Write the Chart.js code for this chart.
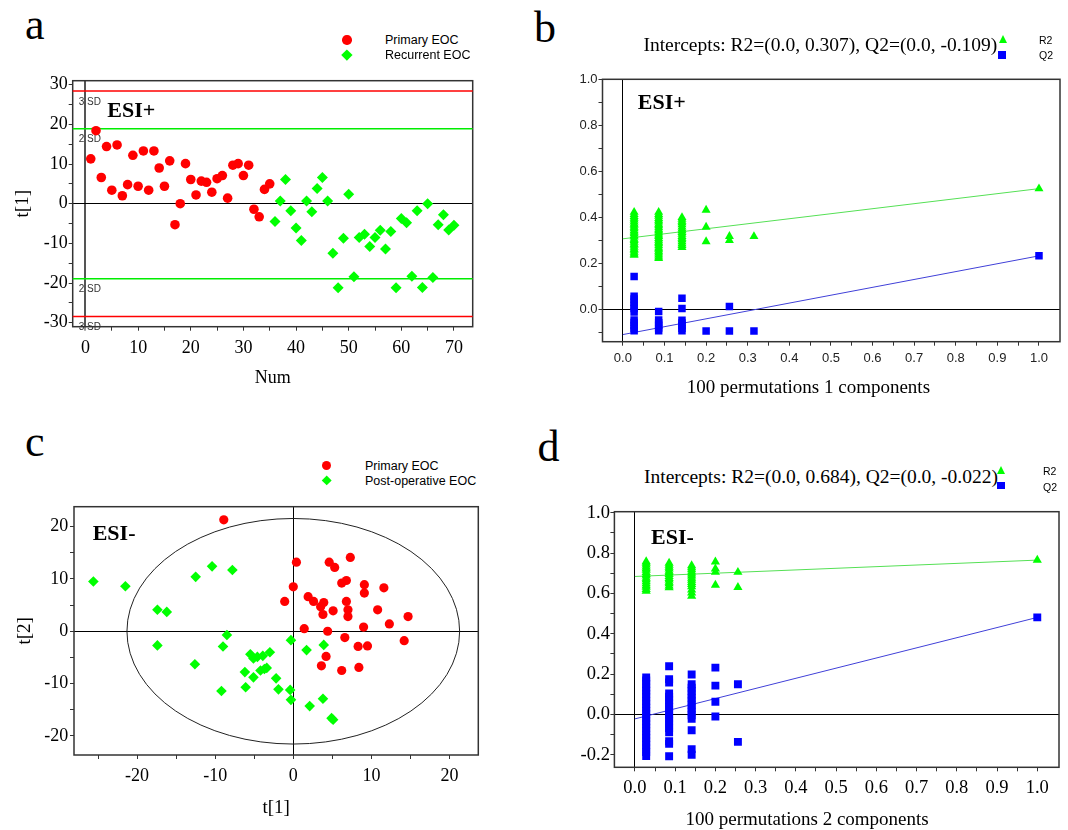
<!DOCTYPE html>
<html>
<head>
<meta charset="utf-8">
<title>EOC score plots and permutation tests</title>
<script src="https://cdn.jsdelivr.net/npm/chart.js@4/dist/chart.umd.min.js"></script>
<style>
  body { margin: 0; background: #fff; }
  #fig { position: relative; width: 1068px; height: 830px; overflow: hidden; background: #fff; }
  #fig canvas { position: absolute; }
  .txt { position: absolute; white-space: nowrap; line-height: 1; color: #000; }
  .mk { position: absolute; }
</style>
</head>
<body>
<div id="fig">
  <canvas id="chartA" width="490" height="340" style="left:0;top:60px"></canvas>
  <canvas id="chartB" width="548" height="340" style="left:520px;top:60px"></canvas>
  <canvas id="chartC" width="490" height="340" style="left:0;top:490px"></canvas>
  <canvas id="chartD" width="548" height="340" style="left:520px;top:490px"></canvas>
</div>
<script>
// ---- panel a: t[1] by sample number, ESI+ ----
const aPrimaryNum = [1, 2, 3, 4, 5, 6, 7, 8, 9, 10, 11, 12, 13, 14, 15, 16, 17, 18, 19, 20,
  21, 22, 23, 24, 25, 26, 27, 28, 29, 30, 31, 32, 33, 34, 35];
const aPrimaryT1 = [11.3, 18.4, 6.6, 14.4, 3.4, 14.8, 2.0, 4.8, 12.2, 4.4, 13.3, 3.4, 13.3, 9.0, 4.4,
  10.8, -5.3, 0.0, 10.1, 6.1, 2.2, 5.7, 5.4, 2.9, 6.3, 7.1, 1.4, 9.7, 10.1, 7.1, 9.7, -1.4, -3.3, 3.6, 5.0];
const aRecurrentNum = [36, 37, 38, 39, 40, 41, 42, 43, 44, 45, 46, 47, 48, 49, 50, 51, 52, 53, 54,
  55, 56, 57, 58, 59, 60, 61, 62, 63, 64, 65, 66, 67, 68, 69, 70];
const aRecurrentT1 = [-4.5, 0.7, 6.1, -1.8, -6.1, -9.3, 0.7, -2.0, 3.8, 6.6, 0.7, -12.5, -21.2, -8.7, 2.4,
  -18.4, -8.5, -7.7, -10.8, -8.5, -6.7, -11.4, -7.0, -21.2, -3.7, -4.8, -18.3, -1.8, -21.1, 0.0,
  -18.6, -5.3, -2.8, -6.6, -5.4];
const aLimits = [28.4, 18.9, -18.9, -28.4];
const aLimitNames = ['3 SD', '2 SD', '2 SD', '3 SD'];
const aLimitColors = ['#ff0000', '#00ee00', '#00ee00', '#ff0000'];
const aXTicks = [0, 5, 10, 15, 20, 25, 30, 35, 40, 45, 50, 55, 60, 65, 70];
const aYTicks = [-30, -25, -20, -15, -10, -5, 0, 5, 10, 15, 20, 25, 30];

// ---- panel b: 100 permutations, 1 component, ESI+ ----
const bPermCorr = [0.027, 0.086, 0.142, 0.2, 0.256, 0.315];
const bR2Perm = [
  [0.236, 0.241, 0.249, 0.258, 0.262, 0.271, 0.279, 0.284, 0.293, 0.3, 0.306, 0.315, 0.321, 0.329,
   0.336, 0.342, 0.351, 0.358, 0.366, 0.372, 0.381, 0.389, 0.397, 0.404, 0.413, 0.423],
  [0.222, 0.228, 0.237, 0.246, 0.253, 0.262, 0.268, 0.277, 0.286, 0.292, 0.301, 0.309, 0.317, 0.324,
   0.333, 0.341, 0.347, 0.356, 0.364, 0.371, 0.38, 0.388, 0.396, 0.405, 0.413, 0.423],
  [0.27, 0.278, 0.286, 0.295, 0.303, 0.31, 0.318, 0.327, 0.335, 0.343, 0.35, 0.359, 0.368, 0.377,
   0.384, 0.392, 0.4],
  [0.295, 0.358, 0.432],
  [0.3, 0.318],
  [0.317]
];
const bQ2Perm = [
  [0.143, 0.058, 0.046, 0.031, 0.017, 0.004, -0.011, -0.046, -0.057, -0.07, -0.082, -0.092],
  [-0.009, -0.046, -0.058, -0.069, -0.081, -0.092],
  [0.049, 0.004, -0.047, -0.059, -0.07, -0.082, -0.092],
  [-0.093],
  [0.013, -0.093],
  [-0.093]
];
const bR2Model = 0.525, bQ2Model = 0.233;
const bR2Intercept = 0.307, bQ2Intercept = -0.109;
const bXTicks = [0, 0.05, 0.1, 0.15, 0.2, 0.25, 0.3, 0.35, 0.4, 0.45, 0.5, 0.55, 0.6, 0.65, 0.7,
  0.75, 0.8, 0.85, 0.9, 0.95, 1.0];
const bYTicks = [-0.1, 0, 0.1, 0.2, 0.3, 0.4, 0.5, 0.6, 0.7, 0.8, 0.9, 1.0];

// ---- panel c: t[1]/t[2] scores, ESI- ----
const cPrimaryT1 = [-8.9, 0.4, 4.6, 5.3, 7.3, 0.0, 6.2, 6.8, 9.1, 9.1, 11.6, -1.1, 1.9, 2.6, 3.5,
  3.9, 3.8, 5.1, 6.8, 7.0, 7.0, 10.8, 14.7, 12.3, 1.4, 4.4, 9.0, 6.6, 14.2, 8.3, 9.5, 4.2, 3.6, 6.2, 8.4];
const cPrimaryT2 = [21.3, 13.2, 13.2, 12.2, 14.1, 8.5, 9.2, 9.7, 8.9, 7.3, 8.3, 5.7, 6.6, 5.7, 4.7,
  5.5, 3.2, 3.9, 5.7, 4.1, 2.8, 4.1, 2.8, 1.4, 0.5, 0.0, 0.8, -1.2, -1.8, -2.9, -2.8, -4.8, -6.6, -7.5, -6.9];
const cPostT1 = [-25.6, -21.5, -12.5, -10.4, -7.8, -17.4, -16.2, -17.4, -8.5, -9.0, -12.6, -9.2, -5.5,
  -5.1, -3.9, -3.0, -6.2, -5.1, -4.2, -3.4, -6.1, -2.2, -1.9, -0.4, -0.3, -0.3, 1.7, 3.9, 2.1, 3.8,
  4.9, 5.1, -4.6, -3.7];
const cPostT2 = [9.5, 8.6, 10.4, 12.4, 11.7, 4.1, 3.7, -2.7, -0.7, -2.9, -6.3, -11.4, -4.4, -5.2, -4.7,
  -4.0, -7.8, -8.8, -7.5, -7.0, -10.7, -9.0, -11.1, -11.2, -13.1, -1.7, -3.6, -2.6, -14.3, -12.9,
  -16.6, -16.9, -4.9, -7.2];
const cEllipse = [21.3, 21.55]; // Hotelling T2 (95%) semi-axes in t[1], t[2]
const cXTicks = [-25, -20, -15, -10, -5, 0, 5, 10, 15, 20];
const cYTicks = [-20, -15, -10, -5, 0, 5, 10, 15, 20];

// ---- panel d: 100 permutations, 2 components, ESI- ----
const dPermCorr = [0.028, 0.085, 0.141, 0.2, 0.256];
const dR2Perm = [
  [0.612, 0.62, 0.631, 0.639, 0.648, 0.659, 0.668, 0.676, 0.687, 0.695, 0.704, 0.715, 0.723, 0.732,
   0.741, 0.75, 0.758],
  [0.629, 0.637, 0.648, 0.656, 0.667, 0.675, 0.684, 0.694, 0.703, 0.711, 0.722, 0.731, 0.74, 0.75],
  [0.587, 0.603, 0.618, 0.634, 0.645, 0.655, 0.666, 0.676, 0.687, 0.697, 0.707, 0.718, 0.728, 0.738],
  [0.641, 0.705, 0.722, 0.757],
  [0.63, 0.705]
];
const dQ2Perm = [
  [0.183, 0.168, 0.151, 0.133, 0.118, 0.101, 0.085, 0.066, 0.051, 0.034, 0.017, 0.001, -0.016, -0.034,
   -0.049, -0.066, -0.083, -0.1, -0.117, -0.134, -0.15, -0.168, -0.186, -0.206],
  [0.239, 0.175, 0.158, 0.104, 0.088, 0.071, 0.055, 0.037, 0.02, 0.003, -0.015, -0.032, -0.05, -0.068,
   -0.088, -0.133, -0.146, -0.207],
  [0.198, 0.15, 0.133, 0.117, 0.099, 0.082, 0.066, 0.048, 0.031, 0.014, -0.004, -0.022, -0.078,
   -0.172, -0.2],
  [0.232, 0.143, 0.063, -0.01],
  [0.15, -0.136]
];
const dR2Model = 0.765, dQ2Model = 0.481;
const dR2Intercept = 0.684, dQ2Intercept = -0.022;
const dXTicks = bXTicks;
const dYTicks = [-0.2, -0.1, 0, 0.1, 0.2, 0.3, 0.4, 0.5, 0.6, 0.7, 0.8, 0.9, 1.0];

const RED = '#ff0000', GREEN = '#00ff00', BLUE = '#0000ff';
const SERIF = '"Liberation Serif", "Times New Roman", serif';
const SANS = '"Liberation Sans", Arial, sans-serif';

// ---------- helpers ----------
const fig = document.getElementById('fig');

function text(str, x, baseline, size, opts = {}) {
  const el = document.createElement('div');
  el.className = 'txt';
  el.textContent = str;
  el.style.fontFamily = opts.sans ? SANS : SERIF;
  el.style.fontSize = size + 'px';
  if (opts.bold) el.style.fontWeight = 'bold';
  el.style.left = x + 'px';
  el.style.top = (baseline - (opts.sans ? 0.8465 : 0.8375) * size) + 'px';
  if (opts.center) el.style.transform = 'translateX(-50%)';
  fig.appendChild(el);
}

function marker(shape, cx, cy, size, color) {
  const el = document.createElement('div');
  el.className = 'mk';
  let w = size, h = size;
  if (shape === 'circle') {
    el.style.borderRadius = '50%';
    el.style.background = color;
  } else if (shape === 'diamond') {
    w = h = size / Math.SQRT2;
    el.style.background = color;
    el.style.transform = 'rotate(45deg)';
  } else if (shape === 'triangle') {
    el.style.borderLeft = (size / 2) + 'px solid transparent';
    el.style.borderRight = (size / 2) + 'px solid transparent';
    el.style.borderBottom = size + 'px solid ' + color;
    el.style.left = (cx - size / 2) + 'px';
    el.style.top = (cy - size / 2) + 'px';
    fig.appendChild(el);
    return;
  } else {
    el.style.background = color;
  }
  el.style.width = w + 'px';
  el.style.height = h + 'px';
  el.style.left = (cx - w / 2) + 'px';
  el.style.top = (cy - h / 2) + 'px';
  fig.appendChild(el);
}

const pairs = (xs, ys) => xs.map((x, i) => ({ x, y: ys[i] }));
const columns = (xs, cols) => cols.flatMap((col, i) => col.map(y => ({ x: xs[i], y })));

function pointSet(label, data, style, radius, color) {
  return { label, data, pointStyle: style, pointRadius: radius, backgroundColor: color,
           borderWidth: 0, showLine: false, order: 1 };
}
function fitLine(label, intercept, modelValue, color) {
  return { label, data: [{ x: 0, y: intercept }, { x: 1, y: modelValue }], showLine: true,
           pointRadius: 0, borderColor: color, borderWidth: 1, order: 5 };
}

const isZero = c => c.tick && Math.abs(c.tick.value) < 1e-9;

function makeScale(o) {
  return {
    type: 'linear', min: o.min, max: o.max,
    afterBuildTicks: s => { s.ticks = o.ticks.map(v => ({ value: v })); },
    afterFit: s => { if (s.isHorizontal()) s.height = o.size; else s.width = o.size; },
    border: { display: false },
    grid: {
      drawOnChartArea: true,
      color: c => isZero(c) ? o.zeroColor : 'rgba(0,0,0,0)',
      lineWidth: c => isZero(c) ? o.zeroWidth : 1,
      tickColor: '#333', tickLength: 4, tickWidth: 1
    },
    ticks: { autoSkip: false, maxRotation: 0, padding: o.pad, color: o.tickColor || '#000',
             font: o.font, callback: o.fmt },
    title: o.title || { display: false }
  };
}

const frame = {
  id: 'frame',
  beforeDatasetsDraw(chart) {
    const { ctx, chartArea: a } = chart;
    ctx.save();
    ctx.strokeStyle = '#333';
    ctx.lineWidth = 1.5;
    ctx.strokeRect(a.left, a.top, a.right - a.left, a.bottom - a.top);
    ctx.restore();
  }
};

function makeChart(id, datasets, xScale, yScale, padding, extra = []) {
  return new Chart(document.getElementById(id), {
    type: 'scatter',
    data: { datasets },
    options: {
      responsive: false, animation: false, events: [],
      layout: { padding },
      plugins: { legend: { display: false }, tooltip: { enabled: false } },
      scales: { x: makeScale(xScale), y: makeScale(yScale) }
    },
    plugins: [frame, ...extra]
  });
}

const serifTicks = { family: SERIF, size: 18 };
const tens = v => (v % 10 === 0 ? String(v) : '');
const tenths = v => (Math.round(v * 100) % 10 === 0 ? v.toFixed(1) : '');
const evenTenths = v => (Math.round(v * 10) % 2 === 0 ? v.toFixed(1) : '');

// ---------- panel a ----------
const sdLines = {
  id: 'sdLines',
  beforeDatasetsDraw(chart) {
    const { ctx, chartArea: { left, right }, scales: { y } } = chart;
    ctx.save();
    aLimits.forEach((v, i) => {
      const py = y.getPixelForValue(v);
      ctx.strokeStyle = aLimitColors[i];
      ctx.lineWidth = 1.5;
      ctx.beginPath();
      ctx.moveTo(left, py);
      ctx.lineTo(right, py);
      ctx.stroke();
      ctx.fillStyle = '#333';
      ctx.font = '10px ' + SANS;
      ctx.textBaseline = 'middle';
      ctx.fillText(aLimitNames[i], left + 6, py + 11);
    });
    ctx.restore();
  }
};

makeChart('chartA', [
  pointSet('Primary EOC', pairs(aPrimaryNum, aPrimaryT1), 'circle', 4.8, RED),
  pointSet('Recurrent EOC', pairs(aRecurrentNum, aRecurrentT1), 'rectRot', 5.5, GREEN)
], {
  min: -2.43, max: 73.56, ticks: aXTicks, fmt: tens, size: 73.3, pad: 6.8, font: serifTicks,
  zeroColor: '#555', zeroWidth: 2,
  title: { display: true, text: 'Num', color: '#000', font: { family: SERIF, size: 18 },
           padding: { top: 0, bottom: 10.9 } }
}, {
  min: -31, max: 31, ticks: aYTicks, fmt: tens, size: 72.7, pad: 1, font: serifTicks,
  zeroColor: '#000', zeroWidth: 1,
  title: { display: true, text: 't[1]', color: '#000', font: { family: SERIF, size: 19 },
           padding: { top: 11.6, bottom: 0 } }
}, { left: 0, top: 20.7, right: 17.3, bottom: 0 }, [sdLines]);

// ---------- panel b ----------
makeChart('chartB', [
  pointSet('R2', columns(bPermCorr, bR2Perm).concat([{ x: 1, y: bR2Model }]), 'triangle', 5.2, GREEN),
  pointSet('Q2', columns(bPermCorr, bQ2Perm).concat([{ x: 1, y: bQ2Model }]), 'rect', 5.3, BLUE),
  fitLine('R2 fit', bR2Intercept, bR2Model, '#55e055'),
  fitLine('Q2 fit', bQ2Intercept, bQ2Model, '#4040d8')
], {
  min: -0.049, max: 1.0505, ticks: bXTicks, fmt: tenths, size: 58.3, pad: 4.8,
  font: { family: SANS, size: 13 }, tickColor: '#222', zeroColor: '#000', zeroWidth: 1
}, {
  min: -0.14, max: 1.0, ticks: bYTicks, fmt: evenTenths, size: 82.5, pad: 1,
  font: { family: SANS, size: 13 }, tickColor: '#222', zeroColor: '#000', zeroWidth: 1
}, { left: 0, top: 19.3, right: 8, bottom: 0 });

// ---------- panel c ----------
const hotelling = {
  id: 'hotelling',
  beforeDatasetsDraw(chart) {
    const { ctx, scales: { x, y } } = chart;
    const cx = x.getPixelForValue(0), cy = y.getPixelForValue(0);
    const rx = x.getPixelForValue(cEllipse[0]) - cx;
    const ry = cy - y.getPixelForValue(cEllipse[1]);
    ctx.save();
    ctx.strokeStyle = '#222';
    ctx.lineWidth = 1;
    ctx.beginPath();
    ctx.ellipse(cx, cy, rx, ry, 0, 0, Math.PI * 2);
    ctx.stroke();
    ctx.restore();
  }
};

makeChart('chartC', [
  pointSet('Primary EOC', pairs(cPrimaryT1, cPrimaryT2), 'circle', 4.6, RED),
  pointSet('Post-operative EOC', pairs(cPostT1, cPostT2), 'rectRot', 5.3, GREEN)
], {
  min: -28.08, max: 23.69, ticks: cXTicks, fmt: tens, size: 75, pad: 6.9, font: serifTicks,
  zeroColor: '#000', zeroWidth: 1,
  title: { display: true, text: 't[1]', color: '#000', font: { family: SERIF, size: 19 },
           padding: { top: 0, bottom: 10.3 } }
}, {
  min: -23.64, max: 23.8, ticks: cYTicks, fmt: tens, size: 74, pad: 1.7, font: serifTicks,
  zeroColor: '#000', zeroWidth: 1,
  title: { display: true, text: 't[2]', color: '#000', font: { family: SERIF, size: 19 },
           padding: { top: 13.6, bottom: 0 } }
}, { left: 0, top: 16.7, right: 11.7, bottom: 0 }, [hotelling]);

// ---------- panel d ----------
makeChart('chartD', [
  pointSet('R2', columns(dPermCorr, dR2Perm).concat([{ x: 1, y: dR2Model }]), 'triangle', 5.3, GREEN),
  pointSet('Q2', columns(dPermCorr, dQ2Perm).concat([{ x: 1, y: dQ2Model }]), 'rect', 5.6, BLUE),
  fitLine('R2 fit', dR2Intercept, dR2Model, '#55e055'),
  fitLine('Q2 fit', dQ2Intercept, dQ2Model, '#4040d8')
], {
  min: -0.051, max: 1.054, ticks: dXTicks, fmt: tenths, size: 62.7, pad: 5.9,
  font: { family: SERIF, size: 18.5 }, zeroColor: '#000', zeroWidth: 1
}, {
  min: -0.262, max: 1.005, ticks: dYTicks, fmt: evenTenths, size: 94.4, pad: 0.5,
  font: { family: SERIF, size: 18.5 }, zeroColor: '#000', zeroWidth: 1
}, { left: 0, top: 21.7, right: 9, bottom: 0 });

// ---------- panel letters, legends, annotations ----------
text('a', 25, 40, 44);
text('b', 534, 43.3, 44);
text('c', 25, 456.7, 44);
text('d', 537.5, 462.3, 44);

text('ESI+', 107.3, 117, 22, { bold: true });
text('ESI+', 637.8, 109, 22, { bold: true });
text('ESI-', 92.7, 540, 22, { bold: true });
text('ESI-', 651, 544, 22, { bold: true });

marker('circle', 347, 40, 9.4, RED);
text('Primary EOC', 385, 44.5, 12.5, { sans: true });
marker('diamond', 347, 55, 11, GREEN);
text('Recurrent EOC', 385, 59.5, 12.5, { sans: true });

marker('circle', 326.7, 465.7, 9.2, RED);
text('Primary EOC', 365, 470.2, 12.5, { sans: true });
marker('diamond', 326.7, 480.7, 10.5, GREEN);
text('Post-operative EOC', 365, 485.7, 12.5, { sans: true });

text('Intercepts: R2=(0.0, ' + bR2Intercept.toFixed(3) + '), Q2=(0.0, ' + bQ2Intercept.toFixed(3) + ')',
     643.4, 51.7, 19.5);
marker('triangle', 1003, 39, 8, GREEN);
marker('square', 1002, 55, 7.5, BLUE);
text('R2', 1039, 43.5, 10.5, { sans: true });
text('Q2', 1039, 59, 10.5, { sans: true });
text('100 permutations 1 components', 808.4, 393, 19, { center: true });

text('Intercepts: R2=(0.0, ' + dR2Intercept.toFixed(3) + '), Q2=(0.0, ' + dQ2Intercept.toFixed(3) + ')',
     644, 483.3, 19.5);
marker('triangle', 1001, 470, 8, GREEN);
marker('square', 1001, 485.3, 7.5, BLUE);
text('R2', 1043, 475, 10.5, { sans: true });
text('Q2', 1043, 491, 10.5, { sans: true });
text('100 permutations 2 components', 807.1, 825, 19, { center: true });
</script>
</body>
</html>
